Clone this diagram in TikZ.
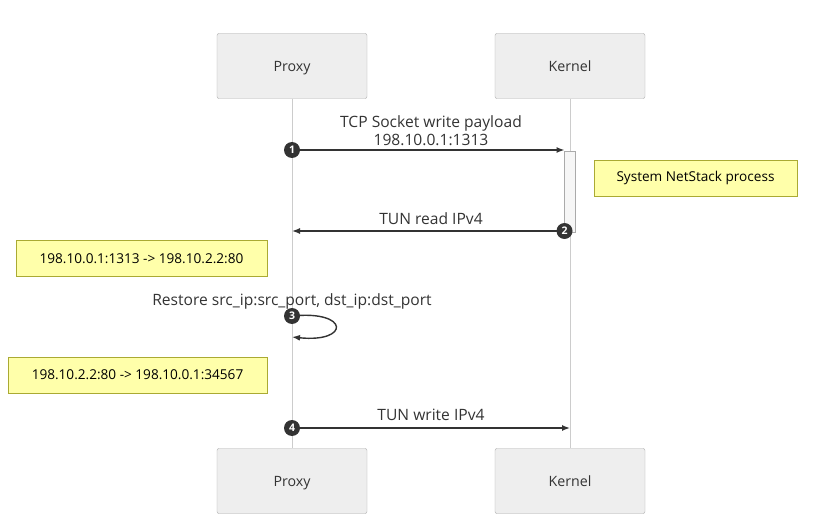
\documentclass[tikz,border=0pt]{standalone}
\usepackage{fontspec}
\setmainfont{Open Sans}
\usetikzlibrary{arrows.meta,positioning}
\definecolor{actfill}{HTML}{EEEEEE}
\definecolor{actline}{HTML}{AAAAAA}
\definecolor{lifeline}{HTML}{CCCCCC}
\definecolor{notefill}{HTML}{FFFFAA}
\definecolor{noteline}{HTML}{AAAA33}
\definecolor{msgline}{HTML}{333333}
\definecolor{msgtext}{HTML}{333333}
\tikzset{
  actor/.style={draw=actline,fill=actfill,rounded corners=2pt,minimum width=150pt,minimum height=65pt,inner sep=0pt,font=\fontsize{14.2}{16}\selectfont,text=msgtext,text height=11pt,text depth=0pt},
  note/.style={draw=noteline,fill=notefill,minimum height=36pt,inner sep=0pt,font=\fontsize{13.6}{15}\selectfont,text=black},
  msg/.style={draw=msgline,line width=1.4pt},
  msglabel/.style={font=\fontsize{15.6}{17}\selectfont,text=msgtext,inner sep=1pt},
  seqnum/.style={circle,fill=msgline,text=white,inner sep=0pt,minimum size=16pt,font=\fontsize{10.5}{11}\selectfont\bfseries},
  life/.style={draw=lifeline,line width=0.8pt}
}
\begin{document}
\begin{tikzpicture}[x=1pt,y=-1pt,>={Latex[length=8pt,width=6pt]}]
            \useasboundingbox (0,0) rectangle (820,516);
            \node[actor] (proxytop) at (292,66) {Proxy};
            \node[actor] (kerneltop) at (570,66) {Kernel};
            \node[actor] (proxybot) at (292,481) {Proxy};
            \node[actor] (kernelbot) at (570,481) {Kernel};
            \draw[life] (proxytop) -- (proxybot);
            \draw[life] (kerneltop) -- (kernelbot);
            \node[draw=actline,fill=actfill!50,minimum width=11pt,minimum height=81pt,inner sep=0pt] (active) at (570,191.5) {};
            \coordinate (p1) at (292,150);
            \coordinate (k1) at (564.5,150);
            \coordinate (k2) at (564.5,231);
            \coordinate (p2) at (292,231);
            \coordinate (p3) at (292,316);
            \coordinate (p3b) at (292,337);
            \coordinate (p4) at (292,428);
            \coordinate (k4) at (570,428);
            \draw[msg,->] (p1) -- (k1);
            \draw[msg,->] (k2) -- (p2);
            \draw[msg,->] (p3) .. controls (350,310) and (350,343) .. (p3b);
            \draw[msg,->] (p4) -- (k4);
            \node[msglabel] (m1a) at (431,123) {TCP Socket write payload};
            \node[msglabel] (m1b) at (431,140) {198.10.0.1:1313};
            \node[msglabel] (m2) at (431,219) {TUN read IPv4};
            \node[msglabel] (m3) at (292,301) {Restore src\_ip:src\_port, dst\_ip:dst\_port};
            \node[msglabel] (m4) at (431,415) {TUN write IPv4};
            \node[seqnum] (n1) at (p1) {1};
            \node[seqnum] (n2) at (k2) {2};
            \node[seqnum] (n3) at (p3) {3};
            \node[seqnum] (n4) at (p4) {4};
            \node[note,minimum width=203pt] (netstack) at (695.5,178) {System NetStack process};
            \node[note,minimum width=251pt] (natout) at (141.5,258.5) {198.10.0.1:1313 -> 198.10.2.2:80};
            \node[note,minimum width=259pt] (natback) at (137.5,375) {198.10.2.2:80 -> 198.10.0.1:34567};
         \end{tikzpicture}
\end{document}
